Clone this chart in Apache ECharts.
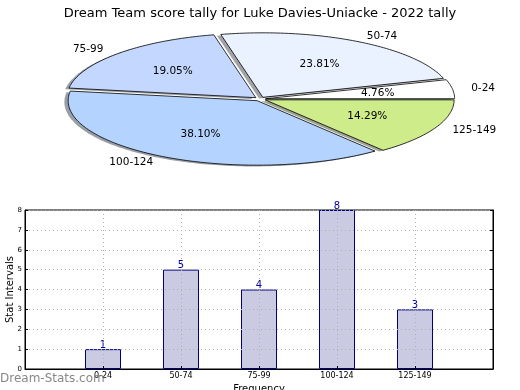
<!DOCTYPE html>
<html>
<head>
<meta charset="utf-8">
<script src="https://cdn.jsdelivr.net/npm/echarts@6/dist/echarts.min.js"></script>
<style>html,body{margin:0;padding:0;background:#fff}#c{width:520px;height:390px}</style>
</head>
<body>
<div id="c"></div>
<script>
// ---- data ----
const categories = ['0-24', '50-74', '75-99', '100-124', '125-149'];
const counts = [1, 5, 4, 8, 3];
const titleText = 'Dream Team score tally for Luke Davies-Uniacke - 2022 tally';
const yAxisName = 'Stat Intervals';
const xAxisName = 'Frequency';
const watermark = 'Dream-Stats.com';

// ---- styles ----
const pieColors = ['#ffffff', '#eaf1ff', '#c4d7ff', '#b4d4ff', '#cfec8b'];
const PIE = { cx: 260, cy: 99, rx: 189, ry: 64.5, explode: 0.03 };
const FONT = 'DejaVu Sans';

const total = counts.reduce((a, b) => a + b, 0);
const starts = [];
let acc = 0;
counts.forEach(v => { starts.push(acc); acc += v; });

// bar axis: one empty slot on each side of the categories
const barCats = [''].concat(categories, ['']);
const barData = [null].concat(counts, [null]);

function sliceGeom(i) {
  const a0 = starts[i] / total * Math.PI * 2;
  const a1 = (starts[i] + counts[i]) / total * Math.PI * 2;
  const am = (a0 + a1) / 2;
  const ox = PIE.cx + PIE.explode * PIE.rx * Math.cos(am);
  const oy = PIE.cy - PIE.explode * PIE.ry * Math.sin(am);
  const pts = [[ox, oy]];
  const n = Math.max(8, Math.ceil((a1 - a0) / 0.02));
  for (let k = 0; k <= n; k++) {
    const a = a0 + (a1 - a0) * k / n;
    pts.push([ox + PIE.rx * Math.cos(a), oy - PIE.ry * Math.sin(a)]);
  }
  return { pts, am, ox, oy };
}

function shadowColor(hex) {
  const r = parseInt(hex.slice(1, 3), 16), g = parseInt(hex.slice(3, 5), 16), b = parseInt(hex.slice(5, 7), 16);
  return 'rgba(' + Math.round(r * 0.3) + ',' + Math.round(g * 0.3) + ',' + Math.round(b * 0.3) + ',0.5)';
}

const chart = echarts.init(document.getElementById('c'), null, { renderer: 'canvas' });
chart.setOption({
  animation: false,
  title: {
    text: titleText, left: 'center', top: 2,
    textStyle: { fontFamily: FONT, fontSize: 13, fontWeight: 'normal', color: '#000' }
  },
  graphic: [{
    type: 'text', left: 0, top: 373, z: 100,
    style: { text: watermark, font: '12px "' + FONT + '"', fill: 'rgba(130,130,130,0.95)' }
  }],
  grid: {
    left: 25, right: 27, top: 210, height: 159, show: true, outerBoundsMode: 'none', containLabel: false,
    borderColor: '#000', borderWidth: 1, backgroundColor: 'transparent'
  },
  xAxis: {
    type: 'category', data: barCats, boundaryGap: false, z: 5,
    name: xAxisName, nameLocation: 'middle', nameGap: 15, nameMoveOverlap: false,
    nameTextStyle: { fontFamily: FONT, fontSize: 10, color: '#000' },
    axisLine: { show: true, onZero: false, lineStyle: { color: '#000' } },
    axisTick: { show: true, inside: true, length: 3, lineStyle: { color: '#000' } },
    axisLabel: { fontFamily: FONT, fontSize: 8, color: '#000', margin: 3, interval: 0 },
    splitLine: { show: true, interval: 0, lineStyle: { color: '#b0b0b0', type: [1, 3], width: 1 } }
  },
  yAxis: [{
    type: 'value', min: 0, max: 8, interval: 1, z: 5,
    name: yAxisName, nameLocation: 'middle', nameGap: 10, nameRotate: 90, nameMoveOverlap: false,
    nameTextStyle: { fontFamily: FONT, fontSize: 10, color: '#000' },
    axisLine: { show: true, onZero: false, lineStyle: { color: '#000' } },
    axisTick: { show: true, inside: true, length: 3, lineStyle: { color: '#000' } },
    axisLabel: { fontFamily: FONT, fontSize: 7, color: '#000', margin: 3 },
    splitLine: { show: true, lineStyle: { color: '#b0b0b0', type: [1, 3], width: 1 } }
  }, {
    type: 'value', min: 0, max: 8, interval: 1, position: 'right', z: 5,
    axisLine: { show: true, onZero: false, lineStyle: { color: '#000' } },
    axisTick: { show: true, inside: true, length: 3, lineStyle: { color: '#000' } },
    axisLabel: { show: false }, splitLine: { show: false }
  }],
  series: [
    {
      type: 'bar', xAxisIndex: 0, yAxisIndex: 0, barWidth: 36, z: 2,
      data: barData,
      itemStyle: { color: '#cacae3', borderColor: '#000080', borderWidth: 1 },
      label: { show: true, position: 'top', distance: -1, fontFamily: FONT, fontSize: 10, color: '#0000a0' }
    },
    {
      type: 'custom', coordinateSystem: 'none', z: 1,
      data: counts,
      renderItem: (params) => {
        const i = params.dataIndex;
        const g = sliceGeom(i);
        const dx = -0.02 * PIE.rx, dy = 0.02 * PIE.ry;
        return {
          type: 'polygon',
          shape: { points: g.pts.map(p => [p[0] + dx, p[1] + dy]) },
          style: { fill: shadowColor(pieColors[i]), stroke: null }
        };
      }
    },
    {
      type: 'custom', coordinateSystem: 'none', z: 3,
      data: counts,
      renderItem: (params, api) => {
        const i = params.dataIndex;
        const v = api.value(0);
        const g = sliceGeom(i);
        const c = Math.cos(g.am), s = Math.sin(g.am);
        const lx = g.ox + 1.1 * PIE.rx * c, ly = g.oy - 1.1 * PIE.ry * s;
        const px = g.ox + 0.6 * PIE.rx * c, py = g.oy - 0.6 * PIE.ry * s;
        return {
          type: 'group',
          children: [
            { type: 'polygon', shape: { points: g.pts },
              style: { fill: pieColors[i], stroke: '#000', lineWidth: 0.8 } },
            { type: 'text', x: lx, y: ly,
              style: { text: categories[i], fill: '#000', font: '10.5px "' + FONT + '"',
                align: c > 0 ? 'left' : 'right', verticalAlign: 'middle' } },
            { type: 'text', x: px, y: py,
              style: { text: (v / total * 100).toFixed(2) + '%', fill: '#000', font: '10.5px "' + FONT + '"',
                align: 'center', verticalAlign: 'middle' } }
          ]
        };
      }
    }
  ]
});
</script>
</body>
</html>
